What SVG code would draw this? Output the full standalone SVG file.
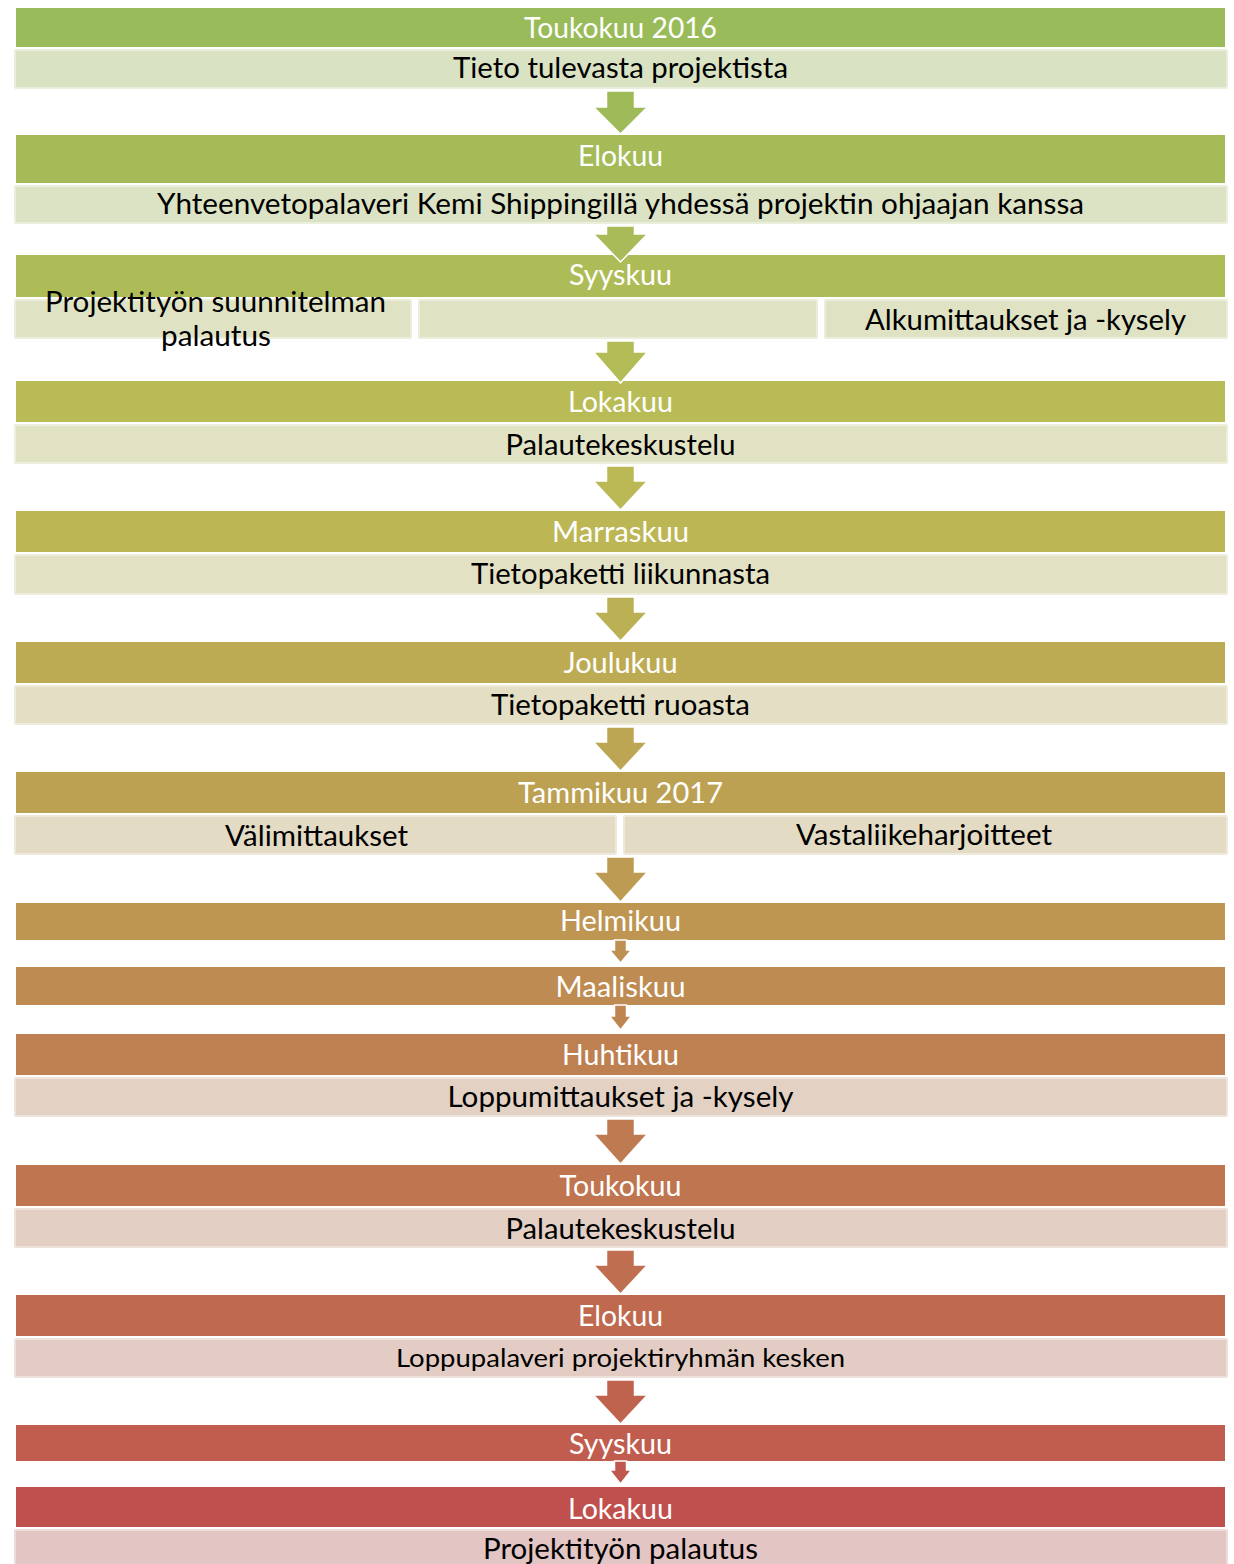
<svg xmlns="http://www.w3.org/2000/svg" width="1234" height="1564" viewBox="0 0 1234 1564">
<style>
.h{stroke:none}
.s{stroke:#ffffff;stroke-opacity:.4;stroke-width:4}
.ht{font-family:Lato,"Open Sans","Liberation Sans",sans-serif;font-size:28px;fill:#ffffff;text-anchor:middle}
.st{font-family:Lato,"Open Sans","Liberation Sans",sans-serif;font-size:28px;fill:#000000;text-anchor:middle}
.a{stroke:#ffffff;stroke-width:1.5;stroke-linejoin:miter}
</style>
<rect width="1234" height="1564" fill="#ffffff"/>
<g id="n1">
<rect class="h" x="16" y="8" width="1209" height="39" fill="#9ABB59"/>
<rect class="s" x="14" y="49" width="1214" height="40" rx="2" fill="#D9E3C4"/>
<text class="ht" x="620.5" y="38" textLength="193" lengthAdjust="spacingAndGlyphs">Toukokuu 2016</text>
<text class="st" x="620.5" y="78" textLength="335" lengthAdjust="spacingAndGlyphs">Tieto tulevasta projektista</text>
</g>
<g id="n2">
<rect class="h" x="16" y="135" width="1209" height="48" fill="#A4BB58"/>
<rect class="s" x="14" y="185" width="1214" height="39" rx="2" fill="#DCE3C4"/>
<text class="ht" x="620.5" y="166" textLength="85" lengthAdjust="spacingAndGlyphs">Elokuu</text>
<text class="st" x="620.5" y="214" textLength="927" lengthAdjust="spacingAndGlyphs">Yhteenvetopalaveri Kemi Shippingillä yhdessä projektin ohjaajan kanssa</text>
</g>
<g id="n3">
<rect class="h" x="16" y="255" width="1209" height="42" fill="#AEBC57"/>
<rect class="s" x="14" y="299" width="398" height="40" rx="2" fill="#DFE3C4"/>
<rect class="s" x="418" y="299" width="400" height="40" rx="2" fill="#DFE3C4"/>
<rect class="s" x="824" y="299" width="404" height="40" rx="2" fill="#DFE3C4"/>
<text class="ht" x="620.5" y="285" textLength="103" lengthAdjust="spacingAndGlyphs">Syyskuu</text>
<text class="st" x="215.5" y="312" textLength="341" lengthAdjust="spacingAndGlyphs">Projektityön suunnitelman</text>
<text class="st" x="216" y="346" textLength="110" lengthAdjust="spacingAndGlyphs">palautus</text>
<text class="st" x="1025.5" y="330" textLength="321" lengthAdjust="spacingAndGlyphs">Alkumittaukset ja -kysely</text>
</g>
<g id="n4">
<rect class="h" x="16" y="381" width="1209" height="41" fill="#B9BC56"/>
<rect class="s" x="14" y="424" width="1214" height="40" rx="2" fill="#E2E3C4"/>
<text class="ht" x="620.5" y="412" textLength="105" lengthAdjust="spacingAndGlyphs">Lokakuu</text>
<text class="st" x="620.5" y="455" textLength="230" lengthAdjust="spacingAndGlyphs">Palautekeskustelu</text>
</g>
<g id="n5">
<rect class="h" x="16" y="511" width="1209" height="41" fill="#BCB655"/>
<rect class="s" x="14" y="554" width="1214" height="41" rx="2" fill="#E3E1C4"/>
<text class="ht" x="620.5" y="542" textLength="137" lengthAdjust="spacingAndGlyphs">Marraskuu</text>
<text class="st" x="620.5" y="584" textLength="299" lengthAdjust="spacingAndGlyphs">Tietopaketti liikunnasta</text>
</g>
<g id="n6">
<rect class="h" x="16" y="642" width="1209" height="41" fill="#BDAB54"/>
<rect class="s" x="14" y="685" width="1214" height="40" rx="2" fill="#E3DEC4"/>
<text class="ht" x="620.5" y="673" textLength="114" lengthAdjust="spacingAndGlyphs">Joulukuu</text>
<text class="st" x="620.5" y="715" textLength="259" lengthAdjust="spacingAndGlyphs">Tietopaketti ruoasta</text>
</g>
<g id="n7">
<rect class="h" x="16" y="772" width="1209" height="41" fill="#BDA153"/>
<rect class="s" x="14" y="815" width="603" height="40" rx="2" fill="#E3DBC4"/>
<rect class="s" x="623" y="815" width="605" height="40" rx="2" fill="#E3DBC4"/>
<text class="ht" x="620.5" y="803" textLength="205" lengthAdjust="spacingAndGlyphs">Tammikuu 2017</text>
<text class="st" x="316.5" y="846" textLength="183" lengthAdjust="spacingAndGlyphs">Välimittaukset</text>
<text class="st" x="924" y="845" textLength="256" lengthAdjust="spacingAndGlyphs">Vastaliikeharjoitteet</text>
</g>
<g id="n8">
<rect class="h" x="16" y="903" width="1209" height="37" fill="#BE9652"/>
<text class="ht" x="620.5" y="931" textLength="121" lengthAdjust="spacingAndGlyphs">Helmikuu</text>
</g>
<g id="n9">
<rect class="h" x="16" y="967" width="1209" height="38" fill="#BE8B52"/>
<text class="ht" x="620.5" y="997" textLength="130" lengthAdjust="spacingAndGlyphs">Maaliskuu</text>
</g>
<g id="n10">
<rect class="h" x="16" y="1034" width="1209" height="41" fill="#BE8051"/>
<rect class="s" x="14" y="1077" width="1214" height="40" rx="2" fill="#E3D2C4"/>
<text class="ht" x="620.5" y="1065" textLength="117" lengthAdjust="spacingAndGlyphs">Huhtikuu</text>
<text class="st" x="620.5" y="1107" textLength="346" lengthAdjust="spacingAndGlyphs">Loppumittaukset ja -kysely</text>
</g>
<g id="n11">
<rect class="h" x="16" y="1165" width="1209" height="41" fill="#BF7550"/>
<rect class="s" x="14" y="1208" width="1214" height="40" rx="2" fill="#E3CFC4"/>
<text class="ht" x="620.5" y="1196" textLength="122" lengthAdjust="spacingAndGlyphs">Toukokuu</text>
<text class="st" x="620.5" y="1239" textLength="230" lengthAdjust="spacingAndGlyphs">Palautekeskustelu</text>
</g>
<g id="n12">
<rect class="h" x="16" y="1295" width="1209" height="41" fill="#BF694F"/>
<rect class="s" x="14" y="1338" width="1214" height="40" rx="2" fill="#E3CCC4"/>
<text class="ht" x="620.5" y="1326" textLength="85" lengthAdjust="spacingAndGlyphs">Elokuu</text>
<text class="st" x="620.5" y="1367" style="font-size:25px" textLength="449" lengthAdjust="spacingAndGlyphs">Loppupalaveri projektiryhmän kesken</text>
</g>
<g id="n13">
<rect class="h" x="16" y="1425" width="1209" height="36" fill="#C05D4E"/>
<text class="ht" x="620.5" y="1454" textLength="103" lengthAdjust="spacingAndGlyphs">Syyskuu</text>
</g>
<g id="n14">
<rect class="h" x="16" y="1487" width="1209" height="40" fill="#C0504D"/>
<rect class="s" x="14" y="1529" width="1214" height="44" rx="2" fill="#E3C5C4"/>
<text class="ht" x="620.5" y="1519" textLength="105" lengthAdjust="spacingAndGlyphs">Lokakuu</text>
<text class="st" x="620.5" y="1559" textLength="275" lengthAdjust="spacingAndGlyphs">Projektityön palautus</text>
</g>
<g id="connectors">
<polygon class="a" fill="#9FBB59" points="606.5,91 634.5,91 634.5,107 647.5,107 620.5,134 593.5,107 606.5,107"/>
<polygon class="a" fill="#A9BB58" points="606.5,226 634.5,226 634.5,234 647.5,234 620.5,262 593.5,234 606.5,234"/>
<polygon class="a" fill="#B4BC57" points="606.5,341 634.5,341 634.5,352 647.5,352 620.5,383 593.5,352 606.5,352"/>
<polygon class="a" fill="#BAB955" points="606.5,466 634.5,466 634.5,481 647.5,481 620.5,510 593.5,481 606.5,481"/>
<polygon class="a" fill="#BCB054" points="606.5,597 634.5,597 634.5,612 647.5,612 620.5,641 593.5,612 606.5,612"/>
<polygon class="a" fill="#BDA653" points="606.5,727 634.5,727 634.5,742 647.5,742 620.5,771 593.5,742 606.5,742"/>
<polygon class="a" fill="#BD9B52" points="606.5,857 634.5,857 634.5,872 647.5,872 620.5,902 593.5,872 606.5,872"/>
<polygon class="a" fill="#BE9052" points="614.5,940 626.5,940 626.5,950 631.5,950 620.5,963 609.5,950 614.5,950"/>
<polygon class="a" fill="#BE8551" points="614.5,1005 626.5,1005 626.5,1016 631.5,1016 620.5,1030 609.5,1016 614.5,1016"/>
<polygon class="a" fill="#BE7A50" points="606.5,1119 634.5,1119 634.5,1134 647.5,1134 620.5,1164 593.5,1134 606.5,1134"/>
<polygon class="a" fill="#BF6F4F" points="606.5,1250 634.5,1250 634.5,1265 647.5,1265 620.5,1294 593.5,1265 606.5,1265"/>
<polygon class="a" fill="#BF634E" points="606.5,1380 634.5,1380 634.5,1395 647.5,1395 620.5,1424 593.5,1395 606.5,1395"/>
<polygon class="a" fill="#C0564D" points="614.5,1461 626.5,1461 626.5,1470 631.5,1470 620.5,1484 609.5,1470 614.5,1470"/>
</g>
</svg>
